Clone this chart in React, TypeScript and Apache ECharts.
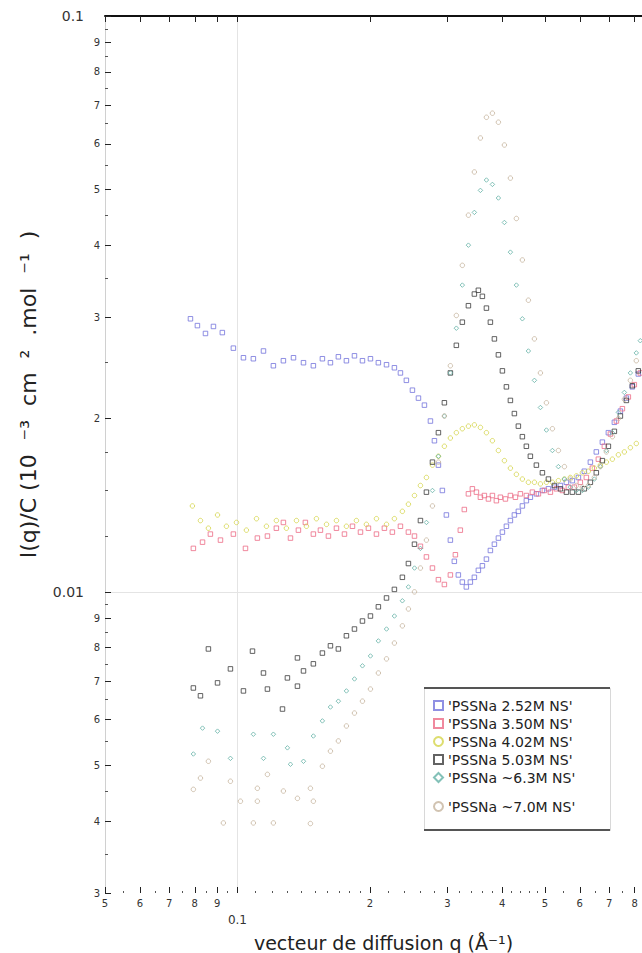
import React, { useEffect, useRef } from "react";
import * as echarts from "echarts";

const FONT = "DejaVu Sans";

const seriesNames = [
  "'PSSNa 2.52M NS'",
  "'PSSNa 3.50M NS'",
  "'PSSNa 4.02M NS'",
  "'PSSNa 5.03M NS'",
  "'PSSNa ~6.3M NS'",
  "'PSSNa ~7.0M NS'",
];
const seriesColors = ["#7474dc", "#ec6c86", "#d4d44a", "#3c3c3c", "#64b2a6", "#c6b49e"];
const seriesSymbols = ["rect", "rect", "circle", "rect", "diamond", "circle"];

const xTicks = [0.05, 0.06, 0.07, 0.08, 0.09, 0.1, 0.2, 0.3, 0.4, 0.5, 0.6, 0.7, 0.8];
const xFineTicks = [
  0.055, 0.065, 0.075, 0.085, 0.095, 0.11, 0.12, 0.13, 0.14, 0.15, 0.16, 0.17, 0.18, 0.19,
  0.22, 0.24, 0.26, 0.28, 0.32, 0.34, 0.36, 0.38, 0.42, 0.44, 0.46, 0.48, 0.55, 0.65, 0.75,
];
const yTicks = [
  0.003, 0.004, 0.005, 0.006, 0.007, 0.008, 0.009, 0.01, 0.02, 0.03, 0.04, 0.05, 0.06, 0.07,
  0.08, 0.09, 0.1,
];
const yFineTicks = [
  0.0035, 0.0045, 0.0055, 0.0065, 0.0075, 0.0085, 0.0095, 0.0125, 0.015, 0.0175, 0.025, 0.035,
  0.045, 0.055, 0.065, 0.075, 0.085, 0.095,
];
const X_MIN = 0.05;
const X_MAX = 0.831;
const Y_MIN = 0.003;
const Y_MAX = 0.1;

const pssna252: [number, number][] = [
  [0.0782, 0.0298], [0.0811, 0.029], [0.0846, 0.0281], [0.0882, 0.0289], [0.0924, 0.0282],
  [0.0979, 0.0265], [0.1032, 0.0255], [0.1087, 0.0254], [0.1146, 0.0262], [0.1207, 0.0247],
  [0.1272, 0.0252], [0.1341, 0.0255], [0.1413, 0.025], [0.1488, 0.0247], [0.156, 0.0254],
  [0.1627, 0.025], [0.1696, 0.0256], [0.1769, 0.0252], [0.1845, 0.0257], [0.1924, 0.0252],
  [0.2006, 0.0254], [0.2091, 0.025], [0.2182, 0.0248], [0.2274, 0.0245], [0.2347, 0.024],
  [0.2421, 0.0233], [0.2499, 0.0224], [0.2579, 0.0217], [0.2661, 0.0211], [0.2746, 0.0198],
  [0.2804, 0.0183], [0.2863, 0.0166], [0.2923, 0.015], [0.2985, 0.0136], [0.3048, 0.0123],
  [0.3112, 0.0113], [0.3178, 0.0107], [0.3245, 0.0104], [0.3314, 0.0102], [0.3384, 0.0104],
  [0.3456, 0.0106], [0.3529, 0.0109], [0.3604, 0.0111], [0.3681, 0.0114], [0.3758, 0.0118],
  [0.3838, 0.0121], [0.3919, 0.0124], [0.4002, 0.0127], [0.4087, 0.013], [0.4173, 0.0133],
  [0.4261, 0.0136], [0.4351, 0.0138], [0.4443, 0.0141], [0.4537, 0.0144], [0.4633, 0.0146],
  [0.4781, 0.0148], [0.4934, 0.015], [0.5092, 0.0151], [0.5254, 0.0152], [0.5421, 0.0153],
  [0.5594, 0.0155], [0.5772, 0.0156], [0.5957, 0.0158], [0.6145, 0.0162], [0.6342, 0.0168],
  [0.6543, 0.0175], [0.6753, 0.0182], [0.6969, 0.0189], [0.7191, 0.0197], [0.7421, 0.0206],
  [0.7657, 0.0217], [0.79, 0.0227], [0.8151, 0.0239],
];

const pssna350: [number, number][] = [
  [0.0794, 0.0119], [0.0833, 0.0122], [0.0868, 0.0126], [0.0915, 0.0123], [0.0979, 0.0126],
  [0.1043, 0.0119], [0.111, 0.0124], [0.117, 0.0125], [0.1226, 0.0129], [0.1272, 0.0132],
  [0.132, 0.0124], [0.1376, 0.0128], [0.1427, 0.0132], [0.1488, 0.0126], [0.1544, 0.0128],
  [0.161, 0.0125], [0.1679, 0.0129], [0.1751, 0.0126], [0.1826, 0.013], [0.1904, 0.0127],
  [0.1985, 0.0129], [0.207, 0.0126], [0.2158, 0.0129], [0.225, 0.0127], [0.2347, 0.013],
  [0.2447, 0.0127], [0.2526, 0.0125], [0.2606, 0.012], [0.2689, 0.0115], [0.2775, 0.011],
  [0.2863, 0.0105], [0.2954, 0.0103], [0.3048, 0.0107], [0.3129, 0.0116], [0.3211, 0.0128],
  [0.3279, 0.0139], [0.335, 0.0148], [0.342, 0.0151], [0.3493, 0.0149], [0.3567, 0.0146],
  [0.3642, 0.0147], [0.372, 0.0145], [0.3798, 0.0147], [0.3878, 0.0144], [0.396, 0.0146],
  [0.4066, 0.0145], [0.4173, 0.0147], [0.4284, 0.0146], [0.4397, 0.0148], [0.4537, 0.0147],
  [0.4682, 0.0149], [0.4832, 0.0148], [0.4986, 0.015], [0.5145, 0.0149], [0.5309, 0.0151],
  [0.5478, 0.015], [0.5652, 0.0152], [0.5832, 0.0152], [0.6018, 0.0155], [0.621, 0.0158],
  [0.6408, 0.0164], [0.6613, 0.017], [0.6824, 0.0179], [0.7042, 0.0188], [0.7268, 0.0198],
  [0.7499, 0.0208], [0.7737, 0.0218], [0.7983, 0.0229], [0.8236, 0.024],
];

const pssna402: [number, number][] = [
  [0.079, 0.0141], [0.0824, 0.0133], [0.0859, 0.0129], [0.0901, 0.0136], [0.0944, 0.013],
  [0.0995, 0.0132], [0.1048, 0.0128], [0.1105, 0.0134], [0.1164, 0.013], [0.1226, 0.0133],
  [0.1292, 0.0129], [0.1362, 0.0133], [0.1435, 0.013], [0.1512, 0.0134], [0.1594, 0.0131],
  [0.1679, 0.0133], [0.1769, 0.013], [0.1864, 0.0133], [0.1964, 0.0131], [0.207, 0.0134],
  [0.2182, 0.0131], [0.2274, 0.0134], [0.2371, 0.0138], [0.2447, 0.0142], [0.2526, 0.0147],
  [0.2606, 0.0153], [0.2689, 0.0158], [0.2775, 0.0166], [0.2863, 0.0172], [0.2954, 0.0179],
  [0.3048, 0.0185], [0.3145, 0.0189], [0.3245, 0.0192], [0.335, 0.0194], [0.3456, 0.0195],
  [0.3567, 0.0193], [0.3681, 0.0189], [0.3798, 0.0183], [0.3919, 0.0176], [0.4044, 0.0169],
  [0.4173, 0.0164], [0.4306, 0.016], [0.4443, 0.0157], [0.4585, 0.0155], [0.4732, 0.0155],
  [0.4883, 0.0154], [0.5039, 0.0155], [0.5199, 0.0155], [0.5365, 0.0156], [0.5536, 0.0157],
  [0.5711, 0.0158], [0.5894, 0.0159], [0.6082, 0.0161], [0.6276, 0.0162], [0.6476, 0.0164],
  [0.6683, 0.0166], [0.6896, 0.0168], [0.7117, 0.017], [0.7343, 0.0173], [0.7577, 0.0175],
  [0.7819, 0.0178], [0.8066, 0.0181],
];

const pssna503: [number, number][] = [
  [0.0794, 0.00681], [0.0824, 0.0066], [0.0859, 0.00796], [0.0901, 0.00695], [0.0964, 0.00735],
  [0.1032, 0.00673], [0.1082, 0.00789], [0.1146, 0.00723], [0.117, 0.00678], [0.1266, 0.00626],
  [0.1299, 0.00709], [0.1369, 0.00686], [0.1369, 0.00768], [0.1413, 0.00729], [0.1488, 0.0075],
  [0.156, 0.00783], [0.1627, 0.00806], [0.1696, 0.00796], [0.1769, 0.00839], [0.1845, 0.00862],
  [0.1924, 0.0089], [0.2006, 0.00908], [0.2091, 0.00942], [0.2182, 0.00976], [0.2274, 0.0101],
  [0.2371, 0.0106], [0.2447, 0.0112], [0.2526, 0.0121], [0.2606, 0.0133], [0.2689, 0.0149],
  [0.2775, 0.0168], [0.2863, 0.0189], [0.2954, 0.0213], [0.3048, 0.024], [0.3145, 0.0268],
  [0.3245, 0.0294], [0.335, 0.0314], [0.3456, 0.0329], [0.3529, 0.0334], [0.3604, 0.0326],
  [0.3681, 0.0311], [0.3758, 0.0294], [0.3838, 0.0275], [0.3919, 0.0258], [0.4002, 0.0242],
  [0.4087, 0.0227], [0.4173, 0.0215], [0.4261, 0.0204], [0.4351, 0.0194], [0.4443, 0.0186],
  [0.4537, 0.0179], [0.4633, 0.0172], [0.4781, 0.0166], [0.4934, 0.0161], [0.5092, 0.0157],
  [0.5254, 0.0153], [0.5421, 0.0151], [0.5594, 0.0149], [0.5772, 0.0149], [0.5957, 0.0149],
  [0.6145, 0.0151], [0.6342, 0.0155], [0.6543, 0.0161], [0.6753, 0.0169], [0.6969, 0.0179],
  [0.7191, 0.019], [0.7421, 0.0202], [0.7657, 0.0215], [0.79, 0.0228], [0.8151, 0.0242],
];

const pssna63: [number, number][] = [
  [0.0794, 0.00523], [0.0833, 0.0058], [0.0901, 0.00573], [0.0964, 0.00514], [0.1087, 0.00566],
  [0.1146, 0.00514], [0.1207, 0.00566], [0.1299, 0.00536], [0.132, 0.00502], [0.1413, 0.00508],
  [0.1488, 0.00562], [0.156, 0.00597], [0.1627, 0.00631], [0.1696, 0.00646], [0.1769, 0.00673],
  [0.1845, 0.00706], [0.1924, 0.00744], [0.2006, 0.00774], [0.2091, 0.00822], [0.2182, 0.00862],
  [0.2274, 0.00908], [0.2371, 0.00965], [0.2447, 0.0102], [0.2526, 0.011], [0.2606, 0.0119],
  [0.2689, 0.0132], [0.2775, 0.015], [0.2863, 0.0172], [0.2954, 0.0202], [0.3048, 0.024],
  [0.3145, 0.0287], [0.3245, 0.0341], [0.335, 0.04], [0.3456, 0.0456], [0.3567, 0.0498],
  [0.3681, 0.0519], [0.3798, 0.051], [0.3919, 0.0483], [0.4044, 0.0438], [0.4173, 0.0389],
  [0.4306, 0.0341], [0.4443, 0.0298], [0.4585, 0.0262], [0.4732, 0.0233], [0.4883, 0.0209],
  [0.5039, 0.0191], [0.5199, 0.0176], [0.5365, 0.0165], [0.5536, 0.0157], [0.5711, 0.0152],
  [0.5894, 0.015], [0.6082, 0.015], [0.6276, 0.0152], [0.6476, 0.0157], [0.6683, 0.0165],
  [0.6896, 0.0176], [0.7117, 0.0189], [0.7343, 0.0205], [0.7577, 0.0222], [0.7819, 0.024],
  [0.8066, 0.026], [0.8236, 0.0273],
];

const pssna70: [number, number][] = [
  [0.0794, 0.00454], [0.0824, 0.00475], [0.0859, 0.00508], [0.0929, 0.00397], [0.0964, 0.00469],
  [0.1016, 0.00433], [0.1087, 0.00397], [0.111, 0.00456], [0.111, 0.00433], [0.117, 0.00482],
  [0.1207, 0.00397], [0.1272, 0.00451], [0.1369, 0.00438], [0.1465, 0.00456], [0.1488, 0.00433],
  [0.1465, 0.00396], [0.156, 0.00498], [0.1627, 0.00529], [0.1696, 0.00551], [0.1769, 0.00585],
  [0.1845, 0.00616], [0.1924, 0.00646], [0.2006, 0.00678], [0.2091, 0.00723], [0.2182, 0.00765],
  [0.2274, 0.00815], [0.2371, 0.00873], [0.2447, 0.00934], [0.2526, 0.01], [0.2606, 0.011],
  [0.2689, 0.0123], [0.2775, 0.0141], [0.2863, 0.0168], [0.2954, 0.0202], [0.3048, 0.0247],
  [0.3145, 0.0302], [0.3245, 0.0369], [0.335, 0.0451], [0.3456, 0.0536], [0.3567, 0.0614],
  [0.3681, 0.0667], [0.3798, 0.0678], [0.3919, 0.0654], [0.4044, 0.0597], [0.4173, 0.0523],
  [0.4306, 0.0445], [0.4443, 0.0377], [0.4585, 0.0321], [0.4732, 0.0275], [0.4883, 0.024],
  [0.5039, 0.0213], [0.5199, 0.0192], [0.5365, 0.0176], [0.5536, 0.0165], [0.5711, 0.0157],
  [0.5894, 0.0153], [0.6082, 0.0152], [0.6276, 0.0153], [0.6476, 0.0158], [0.6683, 0.0165],
  [0.6896, 0.0175], [0.7117, 0.0186], [0.7343, 0.02], [0.7577, 0.0216], [0.7819, 0.0233],
  [0.8066, 0.0252],
];

const seriesData = [pssna252, pssna350, pssna402, pssna503, pssna63, pssna70];

function leadDigit(v: number): number {
  const p = Math.pow(10, Math.floor(Math.log10(v) + 1e-9));
  return Math.round(v / p);
}

function xLabel(v: number): string {
  if (Math.abs(v - 0.1) < 1e-9) return "{maj|0.1}";
  return "{min|" + leadDigit(v) + "}";
}

function yLabel(v: number): string {
  if (Math.abs(v - 0.1) < 1e-9) return "{maj|0.1}";
  if (Math.abs(v - 0.01) < 1e-9) return "{maj|0.01}";
  return "{min|" + leadDigit(v) + "}";
}

export default function App() {
  const ref = useRef<HTMLDivElement>(null);

  useEffect(() => {
    if (!ref.current) return;
    const chart = echarts.init(ref.current, null, { renderer: "svg" });

    const baseX = { type: "log", min: X_MIN, max: X_MAX, gridIndex: 0 };
    const baseY = { type: "log", min: Y_MIN, max: Y_MAX, gridIndex: 0 };
    const legendText = { fontSize: 14, lineHeight: 15, fontFamily: FONT, color: "#222" };

    const option: any = {
      animation: false,
      backgroundColor: "#ffffff",
      grid: { left: 105, top: 16, right: 0, bottom: 60, containLabel: false, outerBoundsMode: "none" },
      xAxis: [
        {
          ...baseX,
          position: "bottom",
          axisLine: { show: false, onZero: false },
          axisTick: { inside: true, length: 6, customValues: xTicks, lineStyle: { color: "#222", width: 1 } },
          axisLabel: {
            customValues: xTicks,
            formatter: xLabel,
            margin: 5,
            color: "#333",
            fontFamily: FONT,
            rich: {
              min: { fontSize: 10, fontFamily: FONT, color: "#333" },
              maj: { fontSize: 12, fontFamily: FONT, color: "#333", padding: [16, 0, 0, 0] },
            },
          },
          splitLine: { show: false },
          name: "vecteur de diffusion q (Å⁻¹)",
          nameLocation: "middle",
          nameGap: 40,
          nameTextStyle: { fontSize: 19, fontFamily: FONT, color: "#222", padding: [0, 0, 0, 20] },
        },
        {
          ...baseX,
          position: "top",
          axisLine: { show: true, onZero: false, lineStyle: { color: "#111", width: 2 } },
          axisTick: { inside: true, length: 6, customValues: xTicks, lineStyle: { color: "#222", width: 1 } },
          axisLabel: { show: false },
          splitLine: { show: false },
        },
        {
          ...baseX,
          position: "bottom",
          axisLine: { show: false, onZero: false },
          axisTick: { inside: true, length: 2, customValues: xFineTicks, lineStyle: { color: "#555", width: 1 } },
          axisLabel: { show: false },
          splitLine: { show: false },
        },
        {
          ...baseX,
          position: "bottom",
          axisLine: { show: false, onZero: false },
          axisTick: { show: false, customValues: [0.1] },
          axisLabel: { show: false },
          splitLine: { show: true, lineStyle: { color: "#e4e4e4", width: 1 } },
        },
      ],
      yAxis: [
        {
          ...baseY,
          position: "left",
          axisLine: { show: true, onZero: false, lineStyle: { color: "#d0d0d0", width: 1 } },
          axisTick: { inside: true, length: 6, customValues: yTicks, lineStyle: { color: "#222", width: 1 } },
          axisLabel: {
            customValues: yTicks,
            formatter: yLabel,
            margin: 5,
            color: "#333",
            fontFamily: FONT,
            rich: {
              min: { fontSize: 10, fontFamily: FONT, color: "#333" },
              maj: { fontSize: 14, fontFamily: FONT, color: "#333", padding: [0, 16, 0, 0] },
            },
          },
          splitLine: { show: false },
          name: "I(q)/C (10  ⁻³  cm  ²  .mol  ⁻¹  )",
          nameLocation: "middle",
          nameRotate: 90,
          nameGap: 66,
          nameTextStyle: { fontSize: 22, fontFamily: FONT, color: "#222", padding: [0, 0, 0, 120] },
        },
        {
          ...baseY,
          position: "left",
          axisLine: { show: false, onZero: false },
          axisTick: { inside: true, length: 3, customValues: yFineTicks, lineStyle: { color: "#555", width: 1 } },
          axisLabel: { show: false },
          splitLine: { show: false },
        },
        {
          ...baseY,
          position: "left",
          axisLine: { show: false, onZero: false },
          axisTick: { show: false, customValues: [0.01] },
          axisLabel: { show: false },
          splitLine: { show: true, lineStyle: { color: "#e4e4e4", width: 1 } },
        },
      ],
      legend: [
        {
          data: seriesNames.slice(0, 5),
          orient: "vertical",
          left: 428,
          top: 693,
          itemWidth: 9,
          itemHeight: 9,
          itemGap: 3,
          selectedMode: false,
          z: 10,
          textStyle: legendText,
        },
        {
          data: seriesNames.slice(5),
          orient: "vertical",
          left: 428,
          top: 794,
          itemWidth: 9,
          itemHeight: 9,
          selectedMode: false,
          z: 10,
          textStyle: legendText,
        },
      ],
      graphic: [
        {
          type: "rect",
          left: 424,
          top: 688,
          z: 5,
          shape: { width: 186, height: 142 },
          style: { fill: "#ffffff", stroke: "#d8d8d8", lineWidth: 1 },
        },
        {
          type: "line",
          z: 6,
          shape: { x1: 424, y1: 688, x2: 610, y2: 688 },
          style: { stroke: "#555", lineWidth: 2 },
        },
        {
          type: "line",
          z: 6,
          shape: { x1: 424, y1: 830, x2: 610, y2: 830 },
          style: { stroke: "#555", lineWidth: 2 },
        },
      ],
      series: seriesNames.map((name, i) => ({
        name,
        type: "scatter",
        xAxisIndex: 0,
        yAxisIndex: 0,
        symbol: seriesSymbols[i],
        symbolSize: 4.5,
        data: seriesData[i],
        itemStyle: {
          color: "rgba(255,255,255,0)",
          borderColor: seriesColors[i],
          borderWidth: 1,
        },
        emphasis: { disabled: true },
      })),
    };

    chart.setOption(option);
    return () => chart.dispose();
  }, []);

  return (
    <div
      ref={ref}
      style={{ position: "fixed", left: 0, top: 0, width: 642, height: 953, background: "#fff" }}
    />
  );
}
